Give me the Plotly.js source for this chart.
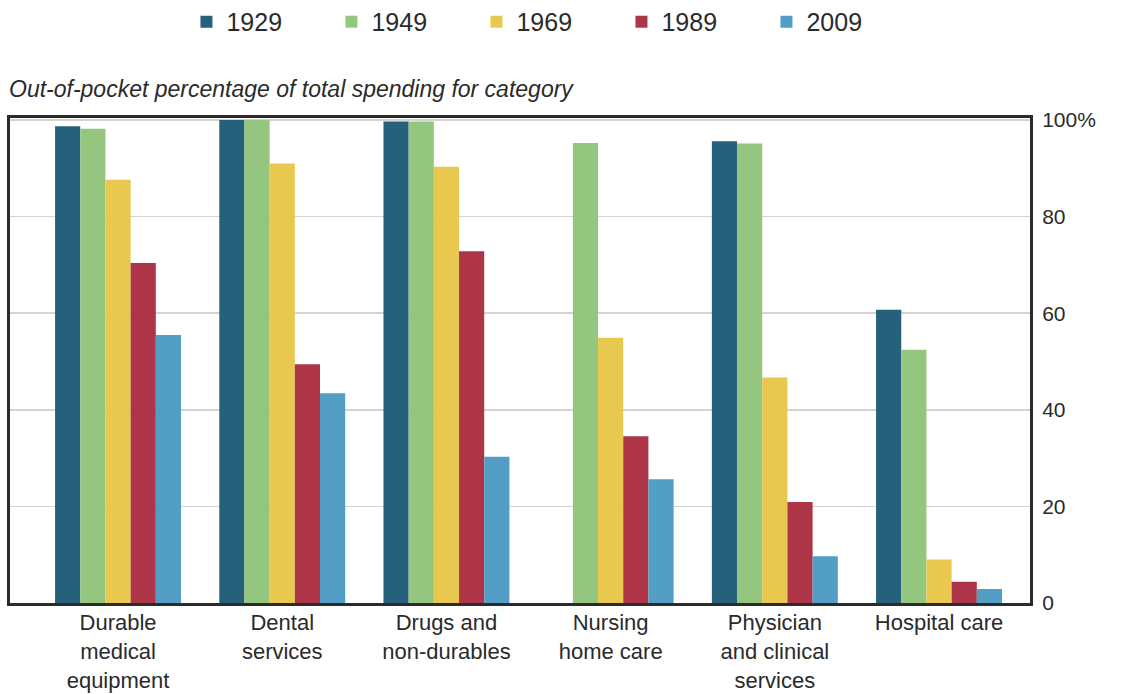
<!DOCTYPE html>
<html>
<head>
<meta charset="utf-8">
<script src="https://cdn.plot.ly/plotly-3.0.1.min.js"></script>
<style>
  html, body { margin: 0; padding: 0; background: #ffffff; }
  #chart { width: 1135px; height: 694px; }
</style>
</head>
<body>
<div id="chart"></div>
<script>
// Categories and tick labels
const categories = [
  "Durable medical equipment",
  "Dental services",
  "Drugs and non-durables",
  "Nursing home care",
  "Physician and clinical services",
  "Hospital care"
];
const categoryTickLabels = [
  "Durable<br>medical<br>equipment",
  "Dental<br>services",
  "Drugs and<br>non-durables",
  "Nursing<br>home care",
  "Physician<br>and clinical<br>services",
  "Hospital care"
];

// Series (out-of-pocket % of total spending)
const years = ["1929", "1949", "1969", "1989", "2009"];
const values1929 = [98.7, 100.0, 99.7, null, 95.6, 60.7];
const values1949 = [98.2, 100.0, 99.7, 95.2, 95.1, 52.4];
const values1969 = [87.6, 91.0, 90.3, 54.9, 46.7, 9.0];
const values1989 = [70.4, 49.4, 72.8, 34.5, 20.9, 4.4];
const values2009 = [55.5, 43.4, 30.3, 25.6, 9.7, 2.9];

const yTickVals = [0, 20, 40, 60, 80, 100];
const yTickText = ["0", "20", "40", "60", "80", "100%"];

const seriesValues = [values1929, values1949, values1969, values1989, values2009];
const seriesColors = ["#27607a", "#94c680", "#e8c84e", "#ae3448", "#529ec4"];

const FONT = "'Liberation Sans', Arial, sans-serif";
const TEXT = "#2a2a2a";

const traces = years.map((yr, i) => ({
  type: "bar",
  name: yr,
  x: categories,
  y: seriesValues[i],
  marker: { color: seriesColors[i], line: { width: 0 } },
  hoverinfo: "x+y+name"
}));

const layout = {
  width: 1135,
  height: 694,
  paper_bgcolor: "#ffffff",
  plot_bgcolor: "#ffffff",
  margin: { l: 10, r: 105, t: 118, b: 91, autoexpand: false },
  barmode: "group",
  bargap: 0.233,
  bargroupgap: 0,
  font: { family: FONT, color: TEXT, size: 21 },
  title: {
    text: "<i>Out-of-pocket percentage of total spending for category</i>",
    x: 9 / 1135,
    xanchor: "left",
    y: 1 - 89 / 694,
    yanchor: "middle",
    font: { family: FONT, size: 23, color: TEXT }
  },
  showlegend: true,
  legend: {
    orientation: "h",
    x: 0.173,
    xanchor: "left",
    y: 1.198,
    yanchor: "middle",
    entrywidth: 100,
    entrywidthmode: "pixels",
    itemwidth: 30,
    font: { family: FONT, size: 25, color: TEXT },
    traceorder: "normal",
    bgcolor: "rgba(0,0,0,0)"
  },
  xaxis: {
    type: "category",
    tickvals: categories,
    ticktext: categoryTickLabels,
    range: [-0.658, 5.554],
    showline: true,
    mirror: true,
    linecolor: "#2b2b2b",
    linewidth: 3,
    ticks: "",
    ticklabelstandoff: -2,
    showgrid: false,
    zeroline: false,
    tickfont: { family: FONT, size: 22, color: TEXT },
    fixedrange: true
  },
  yaxis: {
    side: "right",
    range: [0, 100.4],
    tickvals: yTickVals,
    ticktext: yTickText,
    showline: true,
    mirror: true,
    linecolor: "#2b2b2b",
    linewidth: 3,
    ticks: "",
    ticklabelstandoff: 5,
    showgrid: true,
    gridcolor: "#d6d3d3",
    gridwidth: 1.5,
    zeroline: false,
    tickfont: { family: FONT, size: 21, color: TEXT },
    fixedrange: true
  }
};

Plotly.newPlot("chart", traces, layout, { displayModeBar: false, staticPlot: true });
</script>
</body>
</html>
